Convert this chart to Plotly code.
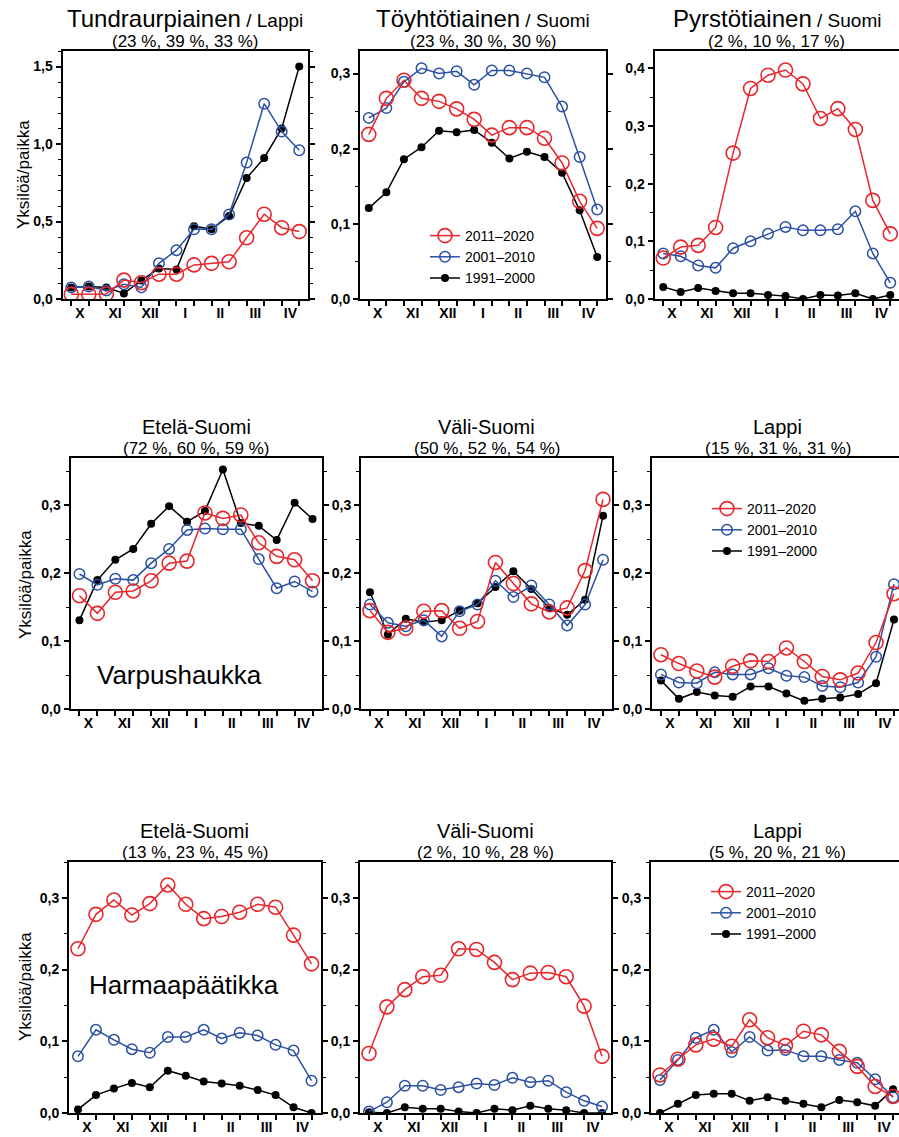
import plotly.graph_objects as go

W, H = 899, 1137
FONT = "Liberation Sans"

months = ["X", "XI", "XII", "I", "II", "III", "IV"]
periods = ["2011–2020", "2001–2010", "1991–2000"]

# ---- Row 1: Tundraurpiainen / Lappi
tundra_2011 = [0.03, 0.03, 0.032, 0.122, 0.105, 0.16, 0.16, 0.22, 0.23, 0.24, 0.395, 0.547, 0.46, 0.435]
tundra_2001 = [0.075, 0.08, 0.055, 0.095, 0.075, 0.23, 0.315, 0.45, 0.45, 0.545, 0.88, 1.26, 1.08, 0.96]
tundra_1991 = [0.075, 0.08, 0.075, 0.036, 0.12, 0.197, 0.19, 0.47, 0.45, 0.535, 0.78, 0.91, 1.10, 1.50]

# ---- Row 1: Töyhtötiainen / Suomi
toyhto_2011 = [0.219, 0.267, 0.291, 0.267, 0.263, 0.253, 0.239, 0.218, 0.228, 0.228, 0.214, 0.181, 0.130, 0.094]
toyhto_2001 = [0.241, 0.254, 0.289, 0.307, 0.300, 0.303, 0.285, 0.304, 0.304, 0.300, 0.295, 0.256, 0.189, 0.119]
toyhto_1991 = [0.121, 0.142, 0.186, 0.202, 0.224, 0.222, 0.225, 0.208, 0.187, 0.196, 0.189, 0.168, 0.118, 0.056]

# ---- Row 1: Pyrstötiainen / Suomi
pyrsto_2011 = [0.071, 0.090, 0.093, 0.124, 0.253, 0.365, 0.388, 0.397, 0.373, 0.313, 0.330, 0.294, 0.171, 0.113]
pyrsto_2001 = [0.079, 0.074, 0.058, 0.054, 0.088, 0.100, 0.113, 0.125, 0.119, 0.119, 0.121, 0.152, 0.079, 0.028]
pyrsto_1991 = [0.021, 0.012, 0.019, 0.014, 0.010, 0.010, 0.007, 0.005, 0.0, 0.007, 0.006, 0.010, 0.0, 0.007]

# ---- Row 2: Varpushaukka
varpu_etela_2011 = [0.167, 0.141, 0.172, 0.174, 0.189, 0.215, 0.218, 0.289, 0.281, 0.286, 0.245, 0.225, 0.220, 0.189]
varpu_etela_2001 = [0.199, 0.183, 0.192, 0.190, 0.215, 0.236, 0.264, 0.266, 0.265, 0.265, 0.221, 0.178, 0.188, 0.173]
varpu_etela_1991 = [0.131, 0.190, 0.220, 0.236, 0.273, 0.299, 0.276, 0.292, 0.353, 0.274, 0.270, 0.249, 0.304, 0.280]

varpu_vali_2011 = [0.145, 0.113, 0.119, 0.144, 0.145, 0.119, 0.129, 0.216, 0.185, 0.155, 0.143, 0.149, 0.204, 0.309]
varpu_vali_2001 = [0.154, 0.127, 0.122, 0.131, 0.107, 0.144, 0.154, 0.189, 0.165, 0.182, 0.154, 0.123, 0.154, 0.220]
varpu_vali_1991 = [0.172, 0.110, 0.133, 0.128, 0.131, 0.145, 0.156, 0.180, 0.203, 0.177, 0.149, 0.139, 0.161, 0.285]

varpu_lappi_2011 = [0.080, 0.067, 0.056, 0.047, 0.063, 0.071, 0.070, 0.090, 0.070, 0.048, 0.043, 0.053, 0.098, 0.170]
varpu_lappi_2001 = [0.051, 0.039, 0.038, 0.054, 0.051, 0.051, 0.060, 0.049, 0.047, 0.034, 0.032, 0.039, 0.077, 0.184]
varpu_lappi_1991 = [0.042, 0.015, 0.025, 0.020, 0.018, 0.033, 0.033, 0.023, 0.012, 0.015, 0.017, 0.022, 0.038, 0.132]

# ---- Row 3: Harmaapäätikka
harma_etela_2011 = [0.229, 0.277, 0.297, 0.276, 0.292, 0.318, 0.291, 0.271, 0.274, 0.280, 0.291, 0.287, 0.248, 0.208]
harma_etela_2001 = [0.079, 0.116, 0.102, 0.089, 0.084, 0.106, 0.106, 0.116, 0.104, 0.112, 0.108, 0.095, 0.087, 0.045]
harma_etela_1991 = [0.005, 0.025, 0.034, 0.042, 0.036, 0.059, 0.052, 0.044, 0.041, 0.038, 0.032, 0.025, 0.008, 0.0]

harma_vali_2011 = [0.083, 0.148, 0.172, 0.190, 0.192, 0.229, 0.228, 0.210, 0.186, 0.195, 0.196, 0.190, 0.149, 0.079]
harma_vali_2001 = [0.002, 0.015, 0.038, 0.038, 0.032, 0.036, 0.041, 0.039, 0.049, 0.043, 0.045, 0.029, 0.017, 0.009]
harma_vali_1991 = [0.001, 0.0, 0.008, 0.006, 0.006, 0.002, 0.0, 0.006, 0.004, 0.010, 0.006, 0.004, 0.0, 0.0]

harma_lappi_2011 = [0.053, 0.075, 0.095, 0.103, 0.093, 0.130, 0.105, 0.094, 0.114, 0.109, 0.086, 0.065, 0.037, 0.023]
harma_lappi_2001 = [0.046, 0.074, 0.105, 0.116, 0.085, 0.106, 0.087, 0.088, 0.079, 0.079, 0.074, 0.070, 0.047, 0.022]
harma_lappi_1991 = [0.0, 0.013, 0.025, 0.027, 0.027, 0.017, 0.022, 0.017, 0.013, 0.008, 0.018, 0.015, 0.010, 0.033]

RED, BLUE, BLACK = "#e8262b", "#2b50a3", "#000000"

def px_x(p):
    return p / W

def px_y(p):
    return 1 - p / H

T1 = 24
panels = [
    ((tundra_2011, tundra_2001, tundra_1991),
     "Tundraurpiainen<span style='font-size:19px'> / Lappi</span>", "(23 %, 39 %, 33 %)",
     1.6, 0.5, 0.1, (62.5, 308, 51, 299), 13.5, True, None, 18, 42, T1),
    ((toyhto_2011, toyhto_2001, toyhto_1991),
     "Töyhtötiainen<span style='font-size:19px'> / Suomi</span>", "(23 %, 30 %, 30 %)",
     0.33, 0.1, 0.05, (360, 606, 51, 299), 13.5, True, "legend", 18, 42, T1),
    ((pyrsto_2011, pyrsto_2001, pyrsto_1991),
     "Pyrstötiainen<span style='font-size:19px'> / Suomi</span>", "(2 %, 10 %, 17 %)",
     0.43, 0.1, 0.05, (654.5, 899, 51, 299), 13.5, False, None, 18, 42, T1),
    ((varpu_etela_2011, varpu_etela_2001, varpu_etela_1991),
     "Etelä-Suomi", "(72 %, 60 %, 59 %)",
     0.37, 0.1, 0.05, (70.5, 321.5, 458, 709), 13.5, True, None, 427.5, 448, 20),
    ((varpu_vali_2011, varpu_vali_2001, varpu_vali_1991),
     "Väli-Suomi", "(50 %, 52 %, 54 %)",
     0.37, 0.1, 0.05, (361, 612, 458, 709), 13.5, True, None, 427.5, 448, 20),
    ((varpu_lappi_2011, varpu_lappi_2001, varpu_lappi_1991),
     "Lappi", "(15 %, 31 %, 31 %)",
     0.37, 0.1, 0.05, (652, 899, 458, 709), 13.28, False, "legend2", 427.5, 448, 20),
    ((harma_etela_2011, harma_etela_2001, harma_etela_1991),
     "Etelä-Suomi", "(13 %, 23 %, 45 %)",
     0.35, 0.1, 0.05, (69, 320.5, 862, 1113), 13.5, True, None, 831, 852, 20),
    ((harma_vali_2011, harma_vali_2001, harma_vali_1991),
     "Väli-Suomi", "(2 %, 10 %, 28 %)",
     0.35, 0.1, 0.05, (360, 611, 862, 1113), 13.5, True, None, 831, 852, 20),
    ((harma_lappi_2011, harma_lappi_2001, harma_lappi_1991),
     "Lappi", "(5 %, 20 %, 21 %)",
     0.35, 0.1, 0.05, (651, 899, 862, 1113), 13.33, False, "legend3", 831, 852, 20),
]

styles = {
    "2011–2020": dict(color=RED, size=14, symbol="circle-open", lw=1.6),
    "2001–2010": dict(color=BLUE, size=10.5, symbol="circle-open", lw=1.5),
    "1991–2000": dict(color=BLACK, size=8, symbol="circle", lw=0),
}

fig = go.Figure()
annotations = []
layout = {}

for i, (series, title, sub, ymax, dtick, minor, box, xmax, mirror, leg, ty, sy, tsize) in enumerate(panels):
    n = "" if i == 0 else str(i + 1)
    l, r, t, b = box
    for name, vals in reversed(list(zip(periods, series))):
        st = styles[name]
        fig.add_trace(go.Scatter(
            x=list(range(len(vals))), y=vals, mode="lines+markers", name=name,
            xaxis="x" + n, yaxis="y" + n,
            line=dict(color=st["color"], width=1.5),
            marker=dict(symbol=st["symbol"], size=st["size"], color=st["color"],
                        line=dict(color=st["color"], width=st["lw"])),
            showlegend=leg is not None, legend=leg if leg else "legend",
            hoverinfo="skip",
        ))
    layout["xaxis" + n] = dict(
        domain=[px_x(l), px_x(r)], anchor="y" + n, range=[-0.5, xmax], automargin=False,
        tickmode="array", tickvals=[0.5 + 2 * k for k in range(len(months))], ticktext=months,
        ticks="outside", ticklen=0, tickcolor="rgba(0,0,0,0)",
        minor=dict(tickmode="linear", tick0=0, dtick=1, ticks="outside", ticklen=5,
                   tickwidth=1.5, tickcolor="black", showgrid=False),
        showline=True, linecolor="black", linewidth=2, mirror=True,
        showgrid=False, zeroline=False,
        tickfont=dict(family=FONT, size=14, color="black", weight="bold"),
        fixedrange=True,
    )
    layout["yaxis" + n] = dict(
        domain=[px_y(b), px_y(t)], anchor="x" + n, range=[0, ymax], automargin=False,
        tickmode="linear", tick0=0, dtick=dtick, tickformat=".1f",
        ticks="outside", ticklen=5, tickwidth=1.5, tickcolor="black",
        minor=dict(tickmode="linear", tick0=0, dtick=minor, ticks="outside", ticklen=3,
                   tickwidth=1.2, tickcolor="black", showgrid=False),
        showline=True, linecolor="black", linewidth=2, mirror="ticks" if mirror else False,
        showgrid=False, zeroline=False,
        tickfont=dict(family=FONT, size=14, color="black", weight="bold"),
        fixedrange=True,
    )
    cx = px_x((l + r) / 2) if mirror else px_x((l + r + (4 if i > 2 else 0)) / 2)
    annotations.append(dict(text=title, x=cx, y=px_y(ty), xref="paper", yref="paper",
                            xanchor="center", yanchor="middle", showarrow=False,
                            font=dict(family=FONT, size=tsize, color="black")))
    annotations.append(dict(text=sub, x=cx, y=px_y(sy), xref="paper", yref="paper",
                            xanchor="center", yanchor="middle", showarrow=False,
                            font=dict(family=FONT, size=17, color="black")))

for yy, xx in [(175, 23), (585, 25), (987, 25)]:
    annotations.append(dict(text="Yksilöä/paikka", x=px_x(xx), y=px_y(yy), xref="paper", yref="paper",
                            xanchor="center", yanchor="middle", textangle=-90, showarrow=False,
                            font=dict(family=FONT, size=17, color="black")))

for txt, xx, yy in [("Varpushaukka", 179.5, 675), ("Harmaapäätikka", 184, 985)]:
    annotations.append(dict(text=txt, x=px_x(xx), y=px_y(yy), xref="paper", yref="paper",
                            xanchor="center", yanchor="middle", showarrow=False,
                            font=dict(family=FONT, size=26, color="black")))

leg_common = dict(xanchor="left", yanchor="top", bgcolor="rgba(0,0,0,0)", borderwidth=0,
                  traceorder="reversed", font=dict(family=FONT, size=14, color="black"),
                  itemclick=False, itemdoubleclick=False)
layout["legend"] = dict(x=px_x(425), y=px_y(220), **leg_common)
layout["legend2"] = dict(x=px_x(707), y=px_y(493), **leg_common)
layout["legend3"] = dict(x=px_x(706), y=px_y(876), **leg_common)

fig.update_layout(
    template="none",
    width=W, height=H, margin=dict(l=0, r=0, t=0, b=0, autoexpand=False),
    paper_bgcolor="white", plot_bgcolor="white",
    separators=", ", annotations=annotations, showlegend=True,
    font=dict(family=FONT, color="black"),
    **layout,
)

fig.write_html("out.html", config={"displayModeBar": False, "staticPlot": False},
               post_script="document.body.style.margin='0px';document.body.style.overflow='hidden';")
